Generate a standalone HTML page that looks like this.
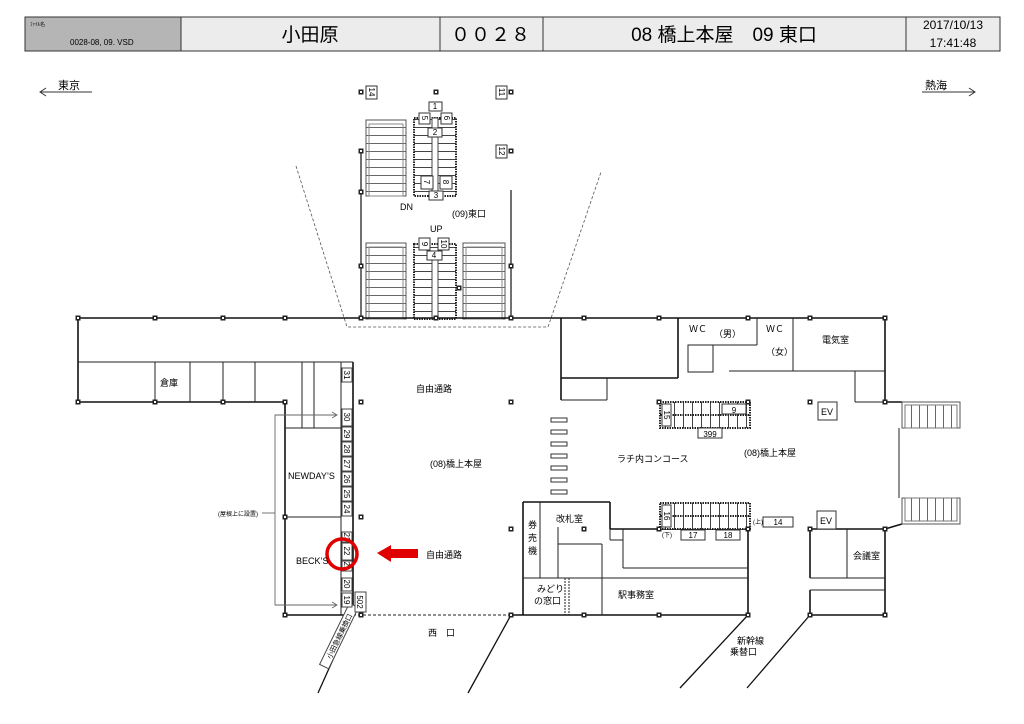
<!DOCTYPE html>
<html><head><meta charset="utf-8"><style>
html,body{margin:0;padding:0;background:#fff;}
svg{display:block;font-family:"Liberation Sans","Noto Sans CJK JP",sans-serif;}
</style></head><body>
<svg width="1024" height="724" viewBox="0 0 1024 724" xmlns="http://www.w3.org/2000/svg">
<defs>
<pattern id="stH" width="10" height="8" patternUnits="userSpaceOnUse"><rect width="10" height="8" fill="#fff"/><line x1="0" y1="7.5" x2="10" y2="7.5" stroke="#666" stroke-width="1"/></pattern>
<pattern id="stV" width="8" height="10" patternUnits="userSpaceOnUse"><rect width="8" height="10" fill="#fff"/><line x1="7.5" y1="0" x2="7.5" y2="10" stroke="#666" stroke-width="1"/></pattern>
<pattern id="esc" width="9" height="8" patternUnits="userSpaceOnUse"><rect width="9" height="8" fill="#fff"/><line x1="0" y1="7.5" x2="9" y2="7.5" stroke="#444"/></pattern>
<pattern id="escV" width="9" height="10" patternUnits="userSpaceOnUse"><rect width="9" height="10" fill="#fff"/><line x1="8.5" y1="0" x2="8.5" y2="10" stroke="#444"/></pattern>
<g id="p"><rect x="-2.5" y="-2.5" width="5" height="5" fill="#222"/><rect x="-1" y="-1" width="2" height="2" fill="#fff"/></g>
</defs>

<!-- header -->
<rect x="25" y="17" width="975" height="34" fill="#ececec" stroke="#333"/>
<rect x="25" y="17" width="156" height="34" fill="#b5b5b5" stroke="#333"/>
<line x1="440" y1="17" x2="440" y2="51" stroke="#333"/>
<line x1="543" y1="17" x2="543" y2="51" stroke="#333"/>
<line x1="906" y1="17" x2="906" y2="51" stroke="#333"/>
<text x="30" y="26" font-size="5">ﾌｧｲﾙ名</text>
<text x="70" y="45" font-size="8">0028-08, 09. VSD</text>
<text x="310" y="41" font-size="19" text-anchor="middle">小田原</text>
<text x="491" y="41" font-size="19" text-anchor="middle" letter-spacing="1">００２８</text>
<text x="724" y="41" font-size="19" text-anchor="middle">08 橋上本屋　09 東口</text>
<text x="953" y="29" font-size="12" text-anchor="middle">2017/10/13</text>
<text x="953" y="47" font-size="12" text-anchor="middle">17:41:48</text>

<!-- direction arrows -->
<g stroke="#333" fill="none">
<line x1="40" y1="92" x2="92" y2="92"/><polyline points="46,88 40,92 46,96"/>
<line x1="922" y1="92" x2="975" y2="92"/><polyline points="969,88 975,92 969,96"/>
</g>
<text x="58" y="89" font-size="11">東京</text>
<text x="925" y="89" font-size="11">熱海</text>

<!-- dotted trapezoid -->
<polyline points="296,166 347,327 548,327 601,172" fill="none" stroke="#555" stroke-dasharray="3,2" stroke-width="0.8"/>

<!-- east exit structure -->
<g stroke="#111" stroke-width="1.2" fill="none">
<line x1="361" y1="150" x2="361" y2="318"/>
<line x1="511" y1="190" x2="511" y2="318"/>
</g>
<rect x="366" y="120" width="40" height="76" fill="url(#stH)" stroke="#555"/>
<rect x="369" y="124" width="34" height="72" fill="none" stroke="#888"/>
<rect x="414" y="118" width="42" height="78" fill="url(#esc)" stroke="#222" stroke-width="2" stroke-dasharray="1.5,1"/>
<rect x="432" y="118" width="6" height="78" fill="#fff" stroke="#444"/>
<rect x="366" y="243" width="40" height="76" fill="url(#stH)" stroke="#555"/>
<rect x="369" y="247" width="34" height="72" fill="none" stroke="#888"/>
<rect x="414" y="244" width="42" height="75" fill="url(#esc)" stroke="#222" stroke-width="2" stroke-dasharray="1.5,1"/>
<rect x="432" y="260" width="6" height="59" fill="#fff" stroke="#444"/>
<rect x="463" y="243" width="42" height="76" fill="url(#stH)" stroke="#555"/>
<rect x="466" y="247" width="36" height="72" fill="none" stroke="#888"/>
<g font-size="8" text-anchor="middle" stroke="#333" fill="#fff">
<rect x="429" y="102" width="13" height="9"/><rect x="419" y="113" width="11" height="11"/><rect x="441" y="113" width="11" height="11"/>
<rect x="428" y="128" width="14" height="9"/><rect x="421" y="176" width="12" height="13"/><rect x="440" y="176" width="12" height="13"/>
<rect x="429" y="191" width="14" height="9"/><rect x="419" y="238" width="11" height="12"/><rect x="438" y="238" width="11" height="12"/>
<rect x="427" y="251" width="15" height="9"/>
<rect x="366" y="86" width="11" height="13"/><rect x="496" y="86" width="11" height="13"/><rect x="496" y="145" width="11" height="13"/>
</g>
<g font-size="8" text-anchor="middle" fill="#000">
<text x="435" y="109">1</text><text x="435" y="135">2</text><text x="436" y="198">3</text><text x="434" y="258">4</text>
<text transform="translate(422,118) rotate(90)">5</text><text transform="translate(444,118) rotate(90)">6</text>
<text transform="translate(424,182) rotate(90)">7</text><text transform="translate(443,182) rotate(90)">8</text>
<text transform="translate(422,244) rotate(90)">9</text><text transform="translate(441,244) rotate(90)">10</text>
<text transform="translate(369,92) rotate(90)">14</text><text transform="translate(499,92) rotate(90)">11</text><text transform="translate(499,151) rotate(90)">12</text>
</g>
<text x="400" y="210" font-size="9">DN</text>
<text x="430" y="232" font-size="9">UP</text>
<text x="452" y="217" font-size="9">(09)東口</text>

<!-- main walls -->
<g stroke="#111" stroke-width="1.6" fill="none">
<line x1="78" y1="318" x2="887" y2="318"/>
<line x1="78" y1="318" x2="78" y2="402"/>
<line x1="78" y1="402" x2="285" y2="402"/>
<line x1="285" y1="402" x2="285" y2="615"/>
<line x1="353" y1="362" x2="353" y2="615"/>
<line x1="285" y1="615" x2="353" y2="615"/>
<line x1="561" y1="318" x2="561" y2="400"/>
<line x1="561" y1="378" x2="678" y2="378"/>
<line x1="678" y1="318" x2="678" y2="378"/>
<line x1="885" y1="318" x2="885" y2="402"/>
<line x1="885" y1="402" x2="902" y2="402"/>
<line x1="885" y1="529" x2="885" y2="615"/>
<line x1="885" y1="529" x2="902" y2="524"/>
<line x1="810" y1="529" x2="885" y2="529"/>
<line x1="810" y1="529" x2="810" y2="578"/>
<line x1="810" y1="590" x2="810" y2="615"/>
<line x1="810" y1="615" x2="885" y2="615"/>
<line x1="511" y1="615" x2="748" y2="615"/>
<line x1="748" y1="529" x2="748" y2="615"/>
<line x1="610" y1="529" x2="748" y2="529"/>
<line x1="523" y1="502" x2="610" y2="502"/>
<line x1="610" y1="502" x2="610" y2="529"/>
<line x1="523" y1="502" x2="523" y2="615"/>
</g>
<g stroke="#222" stroke-width="1" fill="none">
<line x1="78" y1="362" x2="353" y2="362"/>
<line x1="155" y1="362" x2="155" y2="402"/><line x1="190" y1="362" x2="190" y2="402"/>
<line x1="223" y1="362" x2="223" y2="402"/><line x1="255" y1="362" x2="255" y2="402"/>
<line x1="302" y1="362" x2="302" y2="428"/><line x1="314" y1="362" x2="314" y2="428"/>
<line x1="285" y1="428" x2="341" y2="428"/><line x1="285" y1="517" x2="341" y2="517"/>
<line x1="341" y1="362" x2="341" y2="615"/>
<line x1="561" y1="400" x2="607" y2="400"/><line x1="607" y1="378" x2="607" y2="400"/>
<line x1="688" y1="345" x2="757" y2="345"/><line x1="757" y1="318" x2="757" y2="345"/>
<rect x="688" y="345" width="25" height="27"/>
<line x1="729" y1="371" x2="885" y2="371"/><line x1="793" y1="318" x2="793" y2="371"/>
<line x1="855" y1="371" x2="855" y2="402"/><line x1="855" y1="402" x2="885" y2="402"/>
<line x1="847" y1="529" x2="847" y2="578"/><line x1="810" y1="578" x2="885" y2="578"/>
<line x1="810" y1="590" x2="885" y2="590"/>
<line x1="899" y1="428" x2="899" y2="498"/>
<line x1="540" y1="502" x2="540" y2="578"/>
<line x1="523" y1="578" x2="748" y2="578"/>
<line x1="558" y1="527" x2="558" y2="578"/><line x1="558" y1="544" x2="602" y2="544"/><line x1="602" y1="544" x2="602" y2="615"/>
<line x1="610" y1="529" x2="610" y2="540"/><line x1="610" y1="540" x2="623" y2="540"/>
<line x1="623" y1="529" x2="623" y2="568"/><line x1="623" y1="568" x2="748" y2="568"/>
<line x1="565" y1="578" x2="565" y2="615" stroke-dasharray="2,1"/><line x1="569" y1="578" x2="569" y2="615" stroke-dasharray="2,1"/>
</g>
<line x1="353" y1="615" x2="511" y2="615" stroke="#222" stroke-dasharray="3,2"/>
<g stroke="#111" stroke-width="1.3">
<line x1="353" y1="615" x2="318" y2="693"/><line x1="511" y1="615" x2="468" y2="693"/>
<line x1="748" y1="615" x2="680" y2="688"/><line x1="810" y1="615" x2="747" y2="688"/>
</g>
<g transform="translate(339,636) rotate(-64)">
<rect x="-34" y="-5" width="68" height="10" fill="#fff" stroke="#444"/>
<text x="0" y="3" font-size="7" text-anchor="middle">小田急線乗換口</text>
</g>

<!-- right stairs -->
<rect x="902" y="402" width="58" height="26" fill="#fff" stroke="#555"/>
<rect x="905" y="405" width="52" height="23" fill="url(#stV)" stroke="#777"/>
<rect x="902" y="498" width="58" height="26" fill="#fff" stroke="#555"/>
<rect x="905" y="498" width="52" height="23" fill="url(#stV)" stroke="#777"/>

<!-- concourse escalators -->
<rect x="660" y="402" width="90" height="26" fill="url(#escV)" stroke="#222" stroke-width="2" stroke-dasharray="1.5,1"/>
<line x1="660" y1="415" x2="750" y2="415" stroke="#222" stroke-width="2" stroke-dasharray="1.5,1"/>
<rect x="660" y="503" width="90" height="26" fill="url(#escV)" stroke="#222" stroke-width="2" stroke-dasharray="1.5,1"/>
<line x1="660" y1="516" x2="750" y2="516" stroke="#222" stroke-width="2" stroke-dasharray="1.5,1"/>
<g fill="#fff" stroke="#333">
<rect x="662" y="404" width="9" height="22"/><rect x="722" y="404" width="24" height="10"/>
<rect x="698" y="428" width="24" height="10"/>
<rect x="662" y="505" width="9" height="22"/>
<rect x="763" y="517" width="30" height="10"/><rect x="681" y="530" width="24" height="10"/><rect x="716" y="530" width="24" height="10"/>
<rect x="818" y="402" width="19" height="18"/><rect x="817" y="511" width="19" height="18"/>
</g>
<g font-size="8" text-anchor="middle">
<text x="734" y="413">9</text><text x="710" y="437">399</text><text x="778" y="525">14</text><text x="693" y="538">17</text><text x="728" y="538">18</text>
<text transform="translate(664,415) rotate(90)">15</text><text transform="translate(664,516) rotate(90)">16</text>
<text x="758" y="524" font-size="6">(上)</text><text x="667" y="537" font-size="6">(下)</text>
<text x="827" y="415" font-size="9">EV</text><text x="826" y="524" font-size="9">EV</text>
</g>

<g fill="#fff" stroke="#333">
<rect x="551" y="418" width="16" height="4"/><rect x="551" y="430" width="16" height="4"/><rect x="551" y="442" width="16" height="4"/>
<rect x="551" y="454" width="16" height="4"/><rect x="551" y="466" width="16" height="4"/><rect x="551" y="478" width="16" height="4"/><rect x="551" y="490" width="16" height="4"/>
</g>

<!-- shop number boxes -->
<g fill="#fff" stroke="#444">
<rect x="342" y="368" width="10" height="14"/>
<rect x="342" y="409" width="10" height="17"/><rect x="342" y="427" width="10" height="14"/><rect x="342" y="442" width="10" height="14"/>
<rect x="342" y="457" width="10" height="14"/><rect x="342" y="472" width="10" height="14"/><rect x="342" y="487" width="10" height="14"/><rect x="342" y="502" width="10" height="14"/>
<rect x="342" y="532" width="10" height="10"/><rect x="342" y="543" width="10" height="17"/><rect x="342" y="561" width="10" height="10"/><rect x="342" y="578" width="10" height="13"/><rect x="342" y="593" width="10" height="14"/>
<rect x="355" y="592" width="11" height="20"/>
</g>
<g font-size="8" text-anchor="middle">
<text transform="translate(344,375) rotate(90)">31</text>
<text transform="translate(344,417) rotate(90)">30</text><text transform="translate(344,434) rotate(90)">29</text><text transform="translate(344,449) rotate(90)">28</text>
<text transform="translate(344,464) rotate(90)">27</text><text transform="translate(344,479) rotate(90)">26</text><text transform="translate(344,494) rotate(90)">25</text><text transform="translate(344,509) rotate(90)">24</text>
<text transform="translate(344,537) rotate(90)">23</text>
<text transform="translate(344,551) rotate(90)">22</text><text transform="translate(344,566) rotate(90)">21</text><text transform="translate(344,584) rotate(90)">20</text><text transform="translate(344,600) rotate(90)">19</text>
<text transform="translate(357,602) rotate(90)">502</text>
</g>
<g stroke="#666" fill="none" stroke-width="0.9">
<polyline points="336,415 275,415 275,605 336,605"/>
<polyline points="332,412 337,415 332,418"/><polyline points="332,602 337,605 332,608"/>
<line x1="262" y1="513" x2="275" y2="513"/>
</g>
<text x="238" y="516" font-size="6" text-anchor="middle">(屋根上に設置)</text>
<circle cx="342" cy="554" r="15" fill="none" stroke="#e00000" stroke-width="3.5"/>
<polygon points="377,553 391,545 391,549 418,549 418,558 391,558 391,562" fill="#e00000"/>

<g font-size="9">
<text x="160" y="386">倉庫</text>
<text x="288" y="479">NEWDAY’S</text>
<text x="296" y="564">BECK’S</text>
<text x="416" y="392">自由通路</text>
<text x="430" y="467">(08)橋上本屋</text>
<text x="426" y="558">自由通路</text>
<text x="428" y="636">西　口</text>
<text x="617" y="462">ラチ内コンコース</text>
<text x="744" y="456">(08)橋上本屋</text>
<text x="689" y="332">ＷＣ</text><text x="714" y="337">（男）</text>
<text x="766" y="332">ＷＣ</text><text x="766" y="355">（女）</text>
<text x="822" y="343">電気室</text>
<text x="853" y="559">会議室</text>
<text x="556" y="522">改札室</text>
<text x="528" y="528">券</text><text x="528" y="541">売</text><text x="528" y="554">機</text>
<text x="537" y="592">みどり</text><text x="534" y="604">の窓口</text>
<text x="618" y="598">駅事務室</text>
<text x="737" y="644">新幹線</text><text x="730" y="655">乗替口</text>
</g>

<g>
<use href="#p" x="78" y="318"/><use href="#p" x="155" y="318"/><use href="#p" x="223" y="318"/><use href="#p" x="285" y="318"/><use href="#p" x="361" y="318"/>
<use href="#p" x="436" y="318"/><use href="#p" x="511" y="318"/><use href="#p" x="584" y="318"/><use href="#p" x="659" y="318"/><use href="#p" x="748" y="318"/><use href="#p" x="810" y="318"/><use href="#p" x="885" y="318"/>
<use href="#p" x="78" y="402"/><use href="#p" x="155" y="402"/><use href="#p" x="223" y="402"/><use href="#p" x="285" y="402"/>
<use href="#p" x="361" y="402"/><use href="#p" x="511" y="402"/><use href="#p" x="659" y="402"/><use href="#p" x="748" y="402"/><use href="#p" x="810" y="402"/><use href="#p" x="885" y="402"/>
<use href="#p" x="285" y="517"/><use href="#p" x="361" y="517"/><use href="#p" x="511" y="529"/><use href="#p" x="584" y="529"/><use href="#p" x="659" y="529"/><use href="#p" x="748" y="529"/><use href="#p" x="810" y="529"/><use href="#p" x="885" y="529"/>
<use href="#p" x="285" y="615"/><use href="#p" x="361" y="615"/><use href="#p" x="511" y="615"/><use href="#p" x="584" y="615"/><use href="#p" x="659" y="615"/><use href="#p" x="748" y="615"/><use href="#p" x="810" y="615"/><use href="#p" x="885" y="615"/>
<use href="#p" x="361" y="92"/><use href="#p" x="436" y="92"/><use href="#p" x="511" y="92"/>
<use href="#p" x="361" y="151"/><use href="#p" x="511" y="151"/><use href="#p" x="361" y="192"/>
<use href="#p" x="361" y="266"/><use href="#p" x="511" y="266"/><use href="#p" x="459" y="288"/>
</g>
</svg>
</body></html>
